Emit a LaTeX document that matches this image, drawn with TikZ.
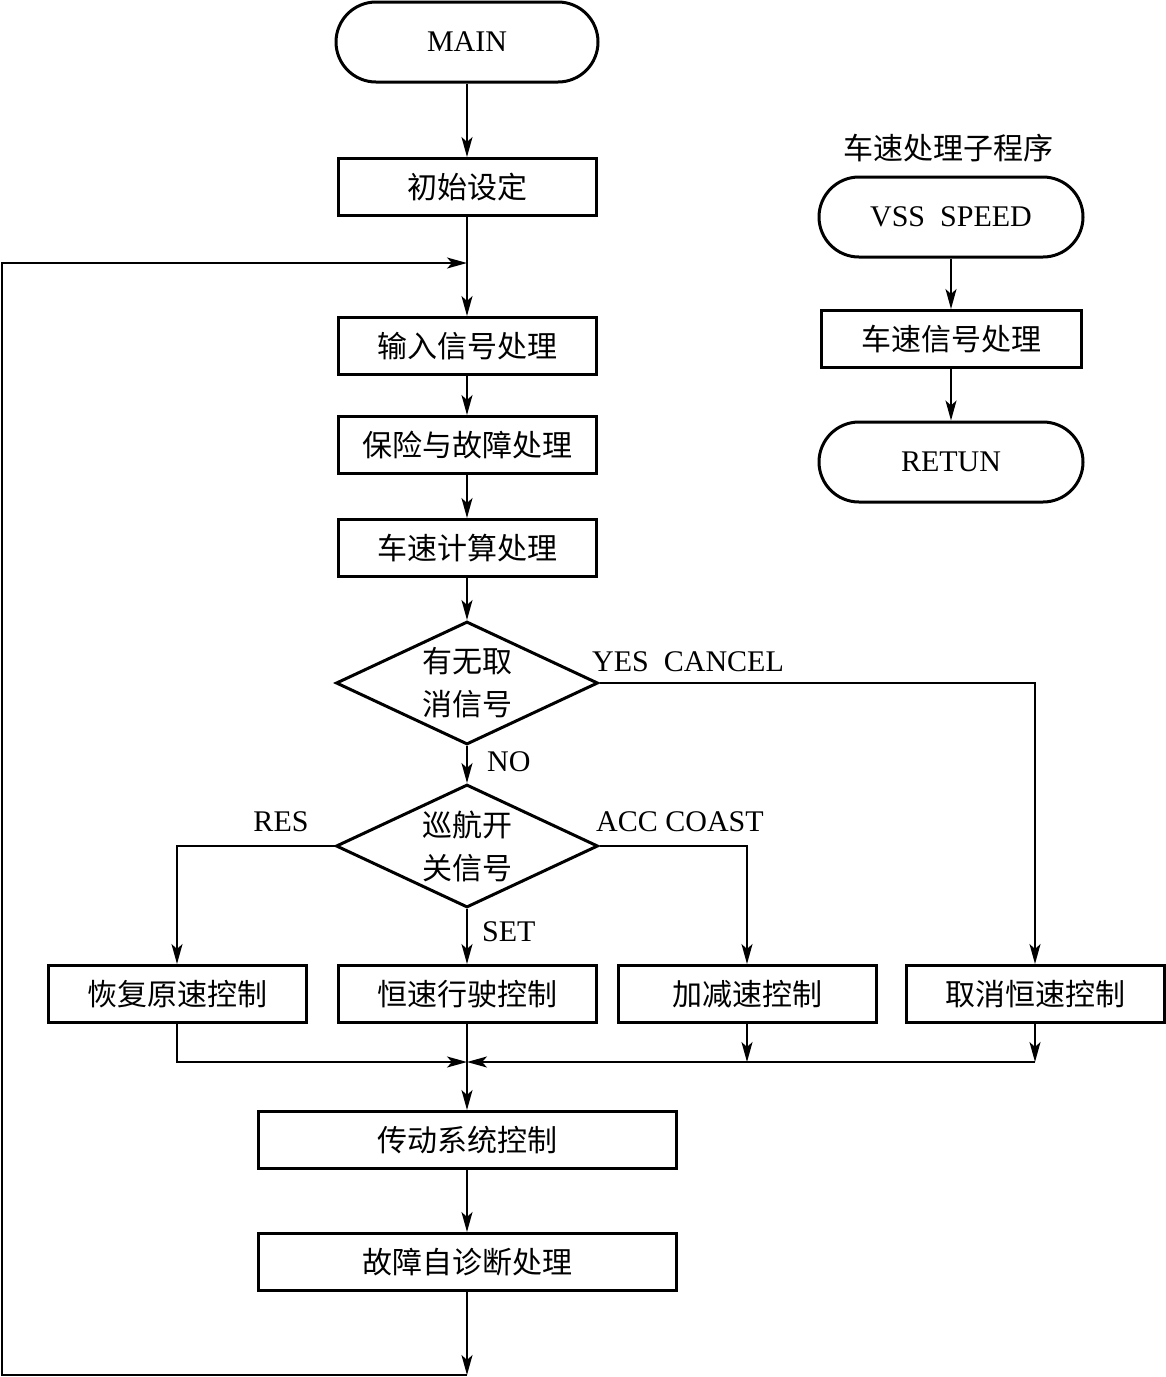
\documentclass[tikz,border=0pt]{standalone}
\usepackage{fontspec}
\setmainfont{Liberation Serif}
\newfontfamily\cjk{Noto Sans CJK SC}
\usetikzlibrary{shapes.geometric,arrows.meta}
\begin{document}
\begin{tikzpicture}[x=1pt,y=-1pt,
  font=\fontsize{30}{36}\selectfont,
  box/.style={draw,line width=3pt,minimum width=258pt,minimum height=57pt,inner sep=0pt,font=\cjk\fontsize{30}{36}\selectfont},
  term/.style={draw,line width=3pt,rounded corners=40pt,minimum width=262pt,minimum height=80pt,inner sep=0pt},
  dia/.style={draw,diamond,line width=3pt,minimum width=262pt,minimum height=123pt,inner sep=0pt},
  dtext/.style={align=center,inner sep=0pt,font=\cjk\fontsize{30}{43}\selectfont},
  ln/.style={line width=1.8pt},
  arr/.style={ln,-{Stealth[length=20pt,width=11pt,inset=5pt]}},
  lab/.style={inner sep=0pt}]
\useasboundingbox (0,0) rectangle (1166,1377);
% main column
\node[term] (main) at (467,42) {MAIN};
\node[box] (init) at (467,187) {初始设定};
\node[box] (inp) at (467,346) {输入信号处理};
\node[box] (safe) at (467,445) {保险与故障处理};
\node[box] (spd) at (467,548) {车速计算处理};
\node[dia] (d1) at (467,683) {};
\node[dtext] (d1t) at (d1) {有无取\\消信号};
\node[dia] (d2) at (467,846) {};
\node[dtext] (d2t) at (d2) {巡航开\\关信号};
\node[box] (res) at (177,994) {恢复原速控制};
\node[box] (cst) at (467,994) {恒速行驶控制};
\node[box] (acc) at (747,994) {加减速控制};
\node[box] (cnl) at (1035,994) {取消恒速控制};
\node[box,minimum width=418pt] (drv) at (467,1140) {传动系统控制};
\node[box,minimum width=418pt] (diag) at (467,1262) {故障自诊断处理};
% labels
\node[lab,anchor=west] (lyes) at (592,662) {YES\ \ CANCEL};
\node[lab,anchor=west] (lno) at (487,762) {NO};
\node[lab,anchor=west] (lacc) at (596,822) {ACC COAST};
\node[lab,anchor=west] (lset) at (482,932) {SET};
\node[lab] (lres) at (281,822) {RES};
% subroutine
\node[font=\cjk\fontsize{30}{36}\selectfont] (ttl) at (948,148) {车速处理子程序};
\node[term,minimum width=264pt] (vss) at (951,217) {VSS\ \ SPEED};
\node[box,minimum width=260pt] (vsp) at (951,339) {车速信号处理};
\node[term,minimum width=264pt] (ret) at (951,462) {RETUN};
% connectors
\draw[arr] (main) -- (init);
\draw[arr] (init) -- (inp);
\draw[arr] (inp) -- (safe);
\draw[arr] (safe) -- (spd);
\draw[arr] (spd) -- (d1);
\draw[arr] (d1) -- (d2);
\draw[arr] (d2) -- (cst);
\draw[arr] (d1.east) -| (cnl.north);
\draw[arr] (d2.east) -| (acc.north);
\draw[arr] (d2.west) -| (res.north);
\coordinate (m) at (467,1062);
\draw[arr] (res.south) |- (m);
\draw[arr] (cst) -- (drv);
\draw[arr] (acc.south) -- (acc.south |- m);
\draw[arr] (cnl.south) -- (cnl.south |- m);
\draw[arr] (cnl.south |- m) -- (m);
\draw[arr] (drv) -- (diag);
\coordinate (b) at (467,1375);
\coordinate (lb) at (2,1375);
\coordinate (lt) at (2,263);
\coordinate (t) at (467,263);
\draw[arr] (diag) -- (b);
\draw[arr] (b) -- (lb) -- (lt) -- (t);
\draw[arr] (vss) -- (vsp);
\draw[arr] (vsp) -- (ret);
\end{tikzpicture}
\end{document}
